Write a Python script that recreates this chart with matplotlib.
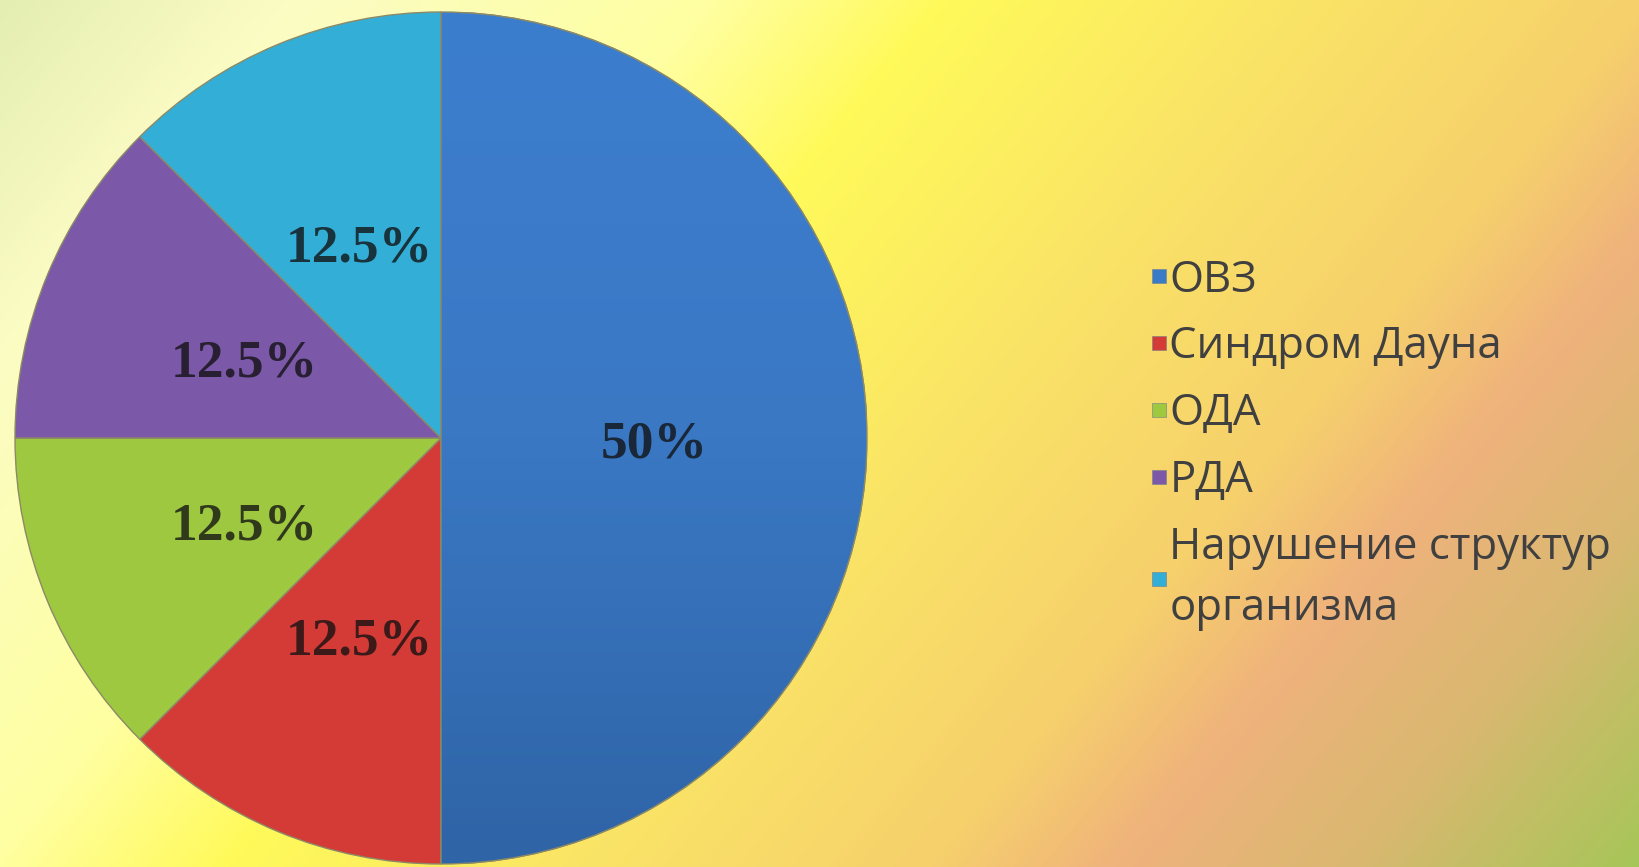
import numpy as np
import matplotlib.pyplot as plt
from matplotlib.colors import LinearSegmentedColormap
from matplotlib.patches import Wedge
from matplotlib.lines import Line2D

# data
labels = ["ОВЗ", "Синдром Дауна", "ОДА", "РДА", "Нарушение структур\nорганизма"]
values = [50, 12.5, 12.5, 12.5, 12.5]
colors = ["#3A7BC8", "#D43B36", "#9DC840", "#7B58A8", "#33AED6"]

W, H = 1639, 867
fig = plt.figure(figsize=(W / 100, H / 100), dpi=100)

# ---------- background gradient ----------
bg_stops = [(0.0, "#E4EEB2"), (0.12, "#FBFCC4"), (0.30, "#FFFFA2"), (0.40, "#FFFA5A"),
            (0.55, "#FAE466"), (0.70, "#F6D06C"), (0.78, "#EFB27C"), (0.88, "#D9B870"),
            (1.0, "#A6C658")]
bg_cmap = LinearSegmentedColormap.from_list("bg", bg_stops)
yy, xx = np.mgrid[0:H, 0:W]
t = (0.77 * xx + 0.64 * yy) / (0.77 * W + 0.64 * H)
bg_ax = fig.add_axes([0, 0, 1, 1], zorder=0)
bg_ax.imshow(t, cmap=bg_cmap, vmin=0, vmax=1, aspect="auto", interpolation="bilinear")
bg_ax.axis("off")

# ---------- pie ----------
cx, cy, r = 441, 438, 426
ax = fig.add_axes([(cx - r) / W, (H - cy - r) / H, 2 * r / W, 2 * r / H], zorder=1)
ax.patch.set_alpha(0)

wedges, texts, autotexts = ax.pie(
    values, colors=colors, startangle=90, counterclock=False,
    autopct=lambda p: f"{p:g}%", pctdistance=0.5,
    wedgeprops=dict(edgecolor="#8c8a66", linewidth=1.0),
    textprops=dict(fontsize=38.5, fontweight="bold", family="Liberation Serif",
                   color="#111111", alpha=0.78),
)

# vertical gradient on the big blue slice (lighter at top)
blue = wedges[0]
blue_cmap = LinearSegmentedColormap.from_list("blue", ["#3C7ECE", "#3A78C4", "#2F64A6"])
grad = np.linspace(0, 1, 256).reshape(-1, 1)
im = ax.imshow(grad, cmap=blue_cmap, extent=(-1, 1, -1, 1), origin="upper",
               aspect="auto", zorder=blue.zorder + 0.1)
im.set_clip_path(blue)
ax.add_patch(Wedge(blue.center, blue.r, blue.theta1, blue.theta2, facecolor="none",
                   edgecolor="#8c8a66", linewidth=1.0, zorder=blue.zorder + 0.2))

# labels sit a little below the slice midpoint
for a in autotexts:
    x, y = a.get_position()
    a.set_position((x, y - 7 / r))
    a.set_zorder(5)

ax.set_xlim(-1, 1)
ax.set_ylim(-1, 1)
ax.set_aspect("equal")
ax.axis("off")

# ---------- legend ----------
handles = [Line2D([], [], marker="s", linestyle="none", markersize=9.5,
                  markerfacecolor=c, markeredgecolor="#6f7f8f", markeredgewidth=0.4)
           for c in colors]
leg = fig.legend(handles, labels, loc="upper left",
                 bbox_to_anchor=(1150 / W, 1 - 258 / H), bbox_transform=fig.transFigure,
                 frameon=False, borderpad=0, borderaxespad=0,
                 handlelength=0.39, handletextpad=0.05, labelspacing=0.51,
                 prop=dict(family="Open Sans", size=31.5))
for txt in leg.get_texts():
    txt.set_color("#404040")
    txt.set_linespacing(1.49)

fig.savefig("out.png", dpi=100)
